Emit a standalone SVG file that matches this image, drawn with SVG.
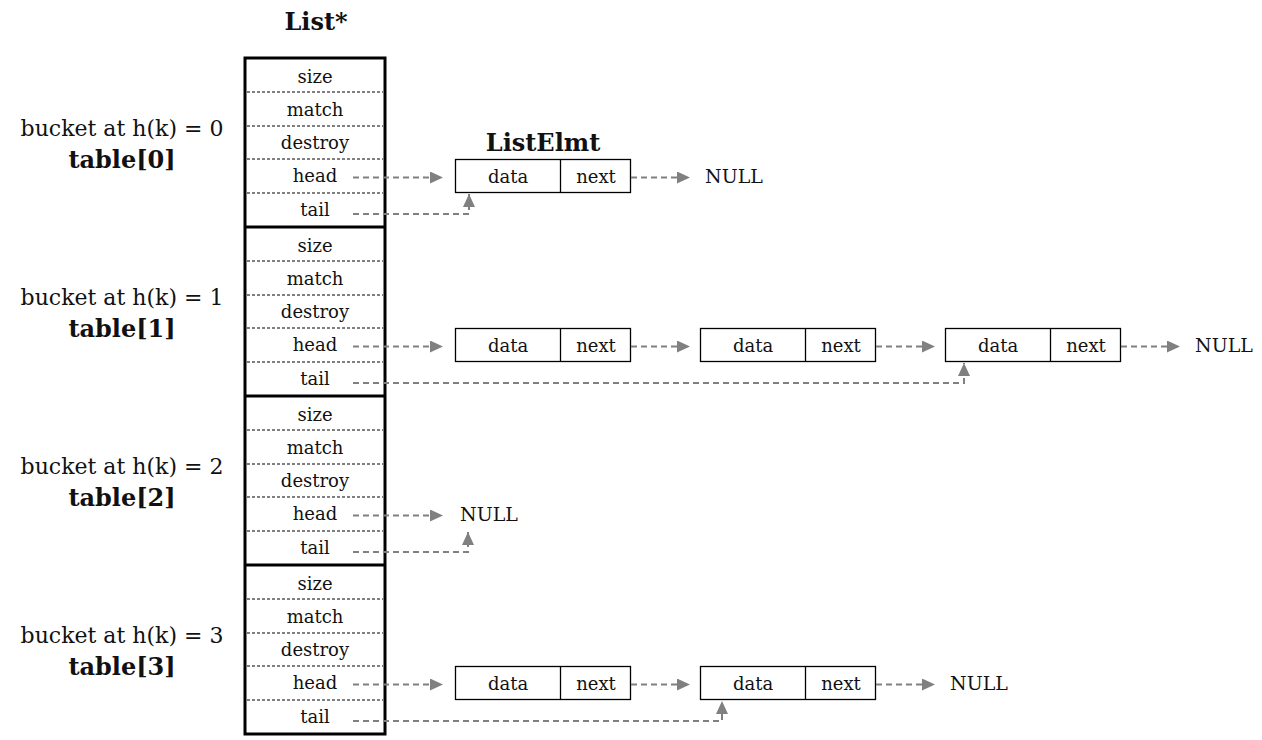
<svg xmlns="http://www.w3.org/2000/svg" width="1262" height="740" viewBox="0 0 1262 740">
<defs>
<style>
text{font-family:"DejaVu Serif","Liberation Serif",serif;fill:#111;}
.f{font-size:18px;text-anchor:middle;}
.lbl{font-size:22px;text-anchor:middle;}
.b{font-weight:bold;font-size:24px;}
.null{font-size:19px;}
.outer{fill:#fff;stroke:#000;stroke-width:3;}
.sep{stroke:#000;stroke-width:1;stroke-dasharray:3 2;}
.thick{stroke:#000;stroke-width:3;}
.box{fill:#fff;stroke:#000;stroke-width:1.3;}
.conn{fill:none;stroke:#808080;stroke-width:2;stroke-dasharray:6 4;}
</style>
<marker id="ah" markerUnits="userSpaceOnUse" markerWidth="14" markerHeight="12" refX="13" refY="6" orient="auto">
<path d="M0,0 L13,6 L0,12 Z" fill="#808080"/>
</marker>
</defs>
<rect width="1262" height="740" fill="#fff"/>
<text x="316" y="30" class="lbl b">List*</text>
<text x="543" y="151" class="lbl b">ListElmt</text>

<g id="table">
<rect class="outer" x="245" y="58" width="140" height="676"/>
<line class="thick" x1="245" y1="227" x2="385" y2="227"/>
<line class="thick" x1="245" y1="396" x2="385" y2="396"/>
<line class="thick" x1="245" y1="565" x2="385" y2="565"/>
</g>

<g id="bucket0">
<text x="122" y="136" class="lbl">bucket at h(k) = 0</text>
<text x="122" y="168" class="lbl b">table[0]</text>
<line class="sep" x1="247" y1="92" x2="383" y2="92"/>
<line class="sep" x1="247" y1="126" x2="383" y2="126"/>
<line class="sep" x1="247" y1="159" x2="383" y2="159"/>
<line class="sep" x1="247" y1="193" x2="383" y2="193"/>
<text x="315" y="83" class="f">size</text>
<text x="315" y="116" class="f">match</text>
<text x="315" y="149" class="f">destroy</text>
<text x="315" y="182" class="f">head</text>
<text x="315" y="216" class="f">tail</text>
</g>
<g id="bucket1">
<text x="122" y="305" class="lbl">bucket at h(k) = 1</text>
<text x="122" y="337" class="lbl b">table[1]</text>
<line class="sep" x1="247" y1="261" x2="383" y2="261"/>
<line class="sep" x1="247" y1="295" x2="383" y2="295"/>
<line class="sep" x1="247" y1="328" x2="383" y2="328"/>
<line class="sep" x1="247" y1="362" x2="383" y2="362"/>
<text x="315" y="252" class="f">size</text>
<text x="315" y="285" class="f">match</text>
<text x="315" y="318" class="f">destroy</text>
<text x="315" y="351" class="f">head</text>
<text x="315" y="385" class="f">tail</text>
</g>
<g id="bucket2">
<text x="122" y="474" class="lbl">bucket at h(k) = 2</text>
<text x="122" y="506" class="lbl b">table[2]</text>
<line class="sep" x1="247" y1="430" x2="383" y2="430"/>
<line class="sep" x1="247" y1="464" x2="383" y2="464"/>
<line class="sep" x1="247" y1="497" x2="383" y2="497"/>
<line class="sep" x1="247" y1="531" x2="383" y2="531"/>
<text x="315" y="421" class="f">size</text>
<text x="315" y="454" class="f">match</text>
<text x="315" y="487" class="f">destroy</text>
<text x="315" y="520" class="f">head</text>
<text x="315" y="554" class="f">tail</text>
</g>
<g id="bucket3">
<text x="122" y="643" class="lbl">bucket at h(k) = 3</text>
<text x="122" y="675" class="lbl b">table[3]</text>
<line class="sep" x1="247" y1="599" x2="383" y2="599"/>
<line class="sep" x1="247" y1="633" x2="383" y2="633"/>
<line class="sep" x1="247" y1="666" x2="383" y2="666"/>
<line class="sep" x1="247" y1="700" x2="383" y2="700"/>
<text x="315" y="590" class="f">size</text>
<text x="315" y="623" class="f">match</text>
<text x="315" y="656" class="f">destroy</text>
<text x="315" y="689" class="f">head</text>
<text x="315" y="723" class="f">tail</text>
</g>

<g id="elmt0a">
<rect class="box" x="455.5" y="159.5" width="175" height="33"/>
<line class="box" x1="560.5" y1="159.5" x2="560.5" y2="192.5"/>
<text x="508" y="183" class="f">data</text>
<text x="596" y="183" class="f">next</text>
</g>
<g id="elmt1a">
<rect class="box" x="455.5" y="328.5" width="175" height="33"/>
<line class="box" x1="560.5" y1="328.5" x2="560.5" y2="361.5"/>
<text x="508" y="352" class="f">data</text>
<text x="596" y="352" class="f">next</text>
</g>
<g id="elmt1b">
<rect class="box" x="700.5" y="328.5" width="175" height="33"/>
<line class="box" x1="805.5" y1="328.5" x2="805.5" y2="361.5"/>
<text x="753" y="352" class="f">data</text>
<text x="841" y="352" class="f">next</text>
</g>
<g id="elmt1c">
<rect class="box" x="945.5" y="328.5" width="175" height="33"/>
<line class="box" x1="1050.5" y1="328.5" x2="1050.5" y2="361.5"/>
<text x="998" y="352" class="f">data</text>
<text x="1086" y="352" class="f">next</text>
</g>
<g id="elmt3a">
<rect class="box" x="455.5" y="666.5" width="175" height="33"/>
<line class="box" x1="560.5" y1="666.5" x2="560.5" y2="699.5"/>
<text x="508" y="690" class="f">data</text>
<text x="596" y="690" class="f">next</text>
</g>
<g id="elmt3b">
<rect class="box" x="700.5" y="666.5" width="175" height="33"/>
<line class="box" x1="805.5" y1="666.5" x2="805.5" y2="699.5"/>
<text x="753" y="690" class="f">data</text>
<text x="841" y="690" class="f">next</text>
</g>

<g id="nulls">
<text x="705" y="183" class="null">NULL</text>
<text x="1195" y="352" class="null">NULL</text>
<text x="460" y="521" class="null">NULL</text>
<text x="950" y="690" class="null">NULL</text>
</g>

<g id="connectors">
<path class="conn" d="M353,177.5 H443" marker-end="url(#ah)"/>
<path class="conn" d="M353,214 H469 V194" marker-end="url(#ah)"/>
<path class="conn" d="M631,177.5 H690" marker-end="url(#ah)"/>

<path class="conn" d="M353,346.5 H443" marker-end="url(#ah)"/>
<path class="conn" d="M631,346.5 H690" marker-end="url(#ah)"/>
<path class="conn" d="M876,346.5 H935" marker-end="url(#ah)"/>
<path class="conn" d="M1121,346.5 H1180" marker-end="url(#ah)"/>
<path class="conn" d="M353,383 H964 V363" marker-end="url(#ah)"/>

<path class="conn" d="M353,515.5 H443" marker-end="url(#ah)"/>
<path class="conn" d="M353,552 H468 V532" marker-end="url(#ah)"/>

<path class="conn" d="M353,684.5 H443" marker-end="url(#ah)"/>
<path class="conn" d="M631,684.5 H690" marker-end="url(#ah)"/>
<path class="conn" d="M876,684.5 H935" marker-end="url(#ah)"/>
<path class="conn" d="M353,721 H722 V701" marker-end="url(#ah)"/>
</g>
</svg>
